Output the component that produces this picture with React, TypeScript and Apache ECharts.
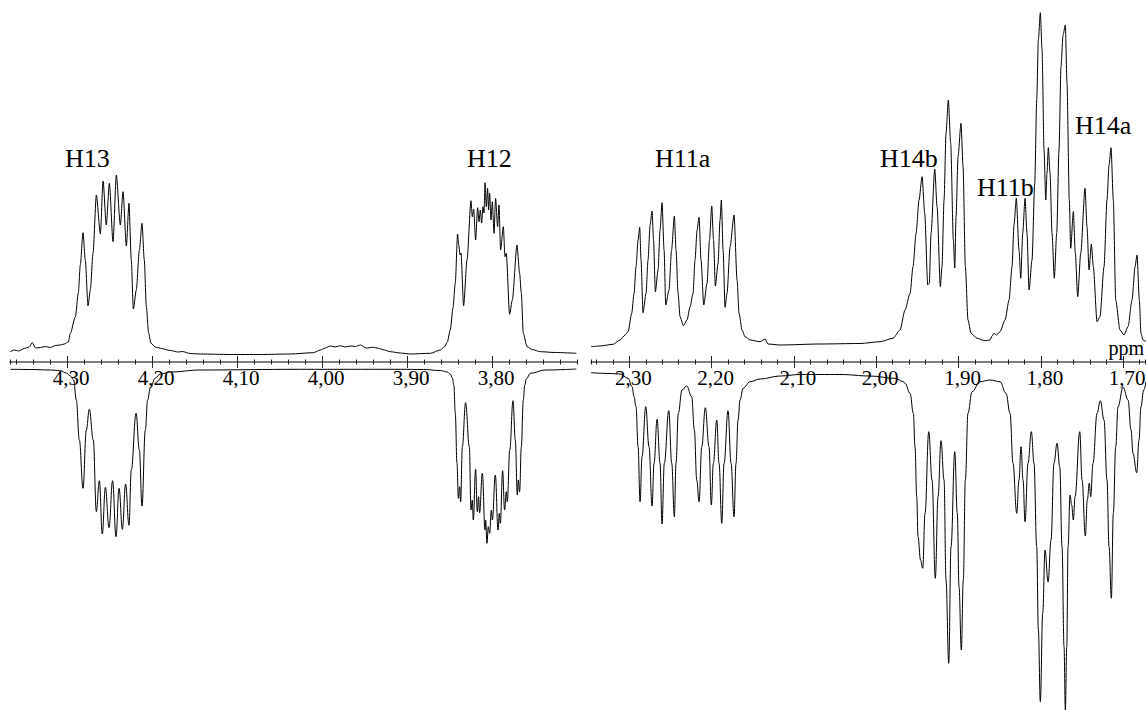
import React, { useEffect, useRef } from "react";
import * as echarts from "echarts";

// [ppm, intensity] (intensity relative to the ppm axis line)
const upperLeft: number[][] = [
  [4.3667, 10.3], [4.362, 12], [4.3573, 11], [4.3502, 13.5], [4.3444, 15], [4.3408, 19.5], [4.3373, 14],
  [4.3314, 14.5], [4.3255, 15.5], [4.3196, 14.5], [4.3138, 16.5], [4.3079, 17], [4.3032, 18], [4.2985, 20],
  [4.2961, 28.7], [4.2902, 45.3], [4.2867, 69], [4.2844, 97], [4.2812, 129.3], [4.2785, 102], [4.2753, 56.3],
  [4.2726, 72], [4.2694, 109], [4.2655, 167], [4.2608, 128], [4.2576, 181], [4.2538, 137], [4.2502, 178.7],
  [4.2459, 120.3], [4.242, 187], [4.2373, 137], [4.2341, 170.3], [4.2302, 116], [4.2271, 158.7], [4.2244, 102],
  [4.222, 53], [4.2185, 72], [4.2149, 112], [4.2118, 138.7], [4.2091, 102], [4.2067, 55.3], [4.204, 29],
  [4.2012, 18.7], [4.1961, 15], [4.1902, 13.7], [4.1785, 11.5], [4.1691, 10], [4.1644, 10.5], [4.1549, 8.5],
  [4.1432, 8], [4.1079, 7.5], [4.0726, 7.5], [4.0373, 8], [4.0102, 9.3], [4.002, 12], [3.9961, 14], [3.9902, 16],
  [3.9844, 15], [3.9785, 16.3], [3.9726, 15], [3.9667, 16], [3.9608, 15.5], [3.9549, 17], [3.9479, 14],
  [3.9396, 14.7], [3.9338, 13.7], [3.9267, 12], [3.9196, 10.3], [3.9079, 9], [3.8961, 8], [3.8726, 8.7],
  [3.8608, 12], [3.8561, 15], [3.8526, 20], [3.8491, 32], [3.8459, 54], [3.8432, 79], [3.8405, 128],
  [3.8391, 117], [3.8376, 107], [3.8365, 109], [3.8334, 56.3], [3.8294, 102], [3.8247, 161.3], [3.8232, 145.3],
  [3.8216, 153], [3.8193, 122], [3.8169, 154.3], [3.8153, 140.3], [3.8138, 152], [3.8122, 139], [3.8106, 155.3],
  [3.8094, 149], [3.8082, 179.3], [3.8067, 155.3], [3.8052, 173.7], [3.804, 152], [3.8028, 168.7], [3.8012, 142],
  [3.7996, 160.3], [3.7976, 128.7], [3.7958, 163.7], [3.7934, 135.3], [3.7918, 157], [3.7899, 112],
  [3.7867, 135.3], [3.7847, 105.3], [3.7832, 108.7], [3.7793, 47.7], [3.7761, 62], [3.7706, 117], [3.7675, 88.7],
  [3.7655, 68.7], [3.7632, 28.7], [3.7588, 15.3], [3.7526, 12.5], [3.7432, 10.3], [3.7255, 9.5], [3.7008, 8.7],
];

const lowerLeft: number[][] = [
  [4.3667, -7.3], [4.3432, -7.5], [4.3196, -8], [4.3079, -8.7], [4.3008, -11], [4.2961, -14], [4.2922, -18],
  [4.2891, -38], [4.2855, -78], [4.2812, -126.3], [4.2773, -68], [4.2738, -47.3], [4.2691, -78], [4.2655, -149.7],
  [4.262, -118.7], [4.2585, -172], [4.2549, -125.3], [4.2506, -165.7], [4.2464, -118.7], [4.2424, -174.7],
  [4.2388, -126.3], [4.2349, -167.3], [4.2311, -122], [4.2271, -163.3], [4.2244, -108], [4.2188, -51.3],
  [4.2149, -88], [4.2118, -144], [4.2079, -68], [4.2052, -38], [4.202, -26], [4.1961, -16], [4.1902, -12],
  [4.1785, -10], [4.1432, -8], [4.0255, -7.3], [3.9079, -7.3], [3.8808, -7.5], [3.8608, -8.5], [3.8526, -10],
  [3.8491, -12], [3.8467, -16], [3.8449, -23], [3.8432, -51.3], [3.8412, -101.3], [3.8396, -136.3],
  [3.8381, -124.7], [3.8369, -139.7], [3.8349, -84.7], [3.8311, -40.7], [3.8267, -84.7], [3.8247, -148],
  [3.8232, -138], [3.822, -158], [3.8193, -107.3], [3.8173, -149.7], [3.8158, -134.7], [3.8146, -150.7],
  [3.8114, -111.3], [3.8082, -168], [3.8075, -158], [3.8059, -181.3], [3.8044, -164.7], [3.8028, -171.3],
  [3.8008, -148], [3.7996, -158], [3.7961, -113], [3.7929, -168], [3.7914, -151.3], [3.7902, -161.3],
  [3.7875, -108.7], [3.7852, -148], [3.7832, -129.7], [3.782, -139.7], [3.7791, -88], [3.7753, -38.7],
  [3.7726, -78], [3.7702, -133], [3.7691, -118], [3.7675, -129.7], [3.7655, -84.7], [3.7632, -38], [3.7614, -23],
  [3.7596, -17], [3.7549, -11.3], [3.7373, -8], [3.7008, -7],
];

const upperRight: number[][] = [
  [2.3465, 15.3], [2.3356, 16], [2.3198, 17.7], [2.3113, 22], [2.3052, 27], [2.3016, 30.3], [2.2971, 48.7],
  [2.2943, 68.7], [2.2919, 95.3], [2.2894, 122], [2.2874, 134.7], [2.2858, 102], [2.2834, 49.3], [2.2797, 68.7],
  [2.2773, 102], [2.2748, 137], [2.2724, 151], [2.2706, 122], [2.2684, 70.3], [2.2651, 92], [2.2627, 132],
  [2.2603, 159.3], [2.2578, 112], [2.2558, 57], [2.2518, 72], [2.2487, 112], [2.2453, 146], [2.2433, 112],
  [2.2408, 68.7], [2.2384, 45.3], [2.2344, 36.3], [2.2299, 42], [2.2262, 55.3], [2.2226, 68.7], [2.2202, 102],
  [2.2177, 132], [2.2153, 144.7], [2.2129, 102], [2.2096, 57], [2.2056, 78.7], [2.2026, 122], [2.1999, 156],
  [2.1977, 122], [2.1955, 76], [2.1922, 98.7], [2.1898, 142], [2.1882, 162], [2.1861, 112], [2.1837, 54.7],
  [2.1813, 68.7], [2.1776, 115.3], [2.1728, 147], [2.1691, 82], [2.1667, 48.7], [2.1631, 32], [2.1594, 25.3],
  [2.1533, 22], [2.1412, 20.3], [2.1351, 23], [2.1315, 18], [2.1169, 17], [2.0683, 18], [2.0197, 18.5],
  [1.9954, 20.3], [1.9796, 23.7], [1.9711, 32], [1.965, 52], [1.9589, 68.7], [1.9553, 95.3], [1.9516, 128.7],
  [1.948, 162], [1.9443, 185.3], [1.9411, 148.7], [1.9374, 77], [1.9355, 78.7], [1.9334, 128.7], [1.9289, 193],
  [1.9261, 155.3], [1.9221, 75.3], [1.9201, 95.3], [1.9176, 162], [1.9152, 228.7], [1.9124, 262],
  [1.9095, 218.7], [1.9063, 122], [1.9046, 94], [1.903, 145.3], [1.9006, 205.3], [1.897, 238.7], [1.8945, 195.3],
  [1.8917, 95.3], [1.8885, 42], [1.8848, 28.7], [1.8775, 23.7], [1.8678, 21.3], [1.8617, 22], [1.8593, 26],
  [1.8569, 28.7], [1.8536, 27], [1.8496, 30.3], [1.8435, 42], [1.8386, 62], [1.835, 95.3], [1.8326, 137],
  [1.8298, 163.7], [1.8265, 112], [1.8244, 83.7], [1.822, 128.7], [1.8192, 163.7], [1.8168, 128.7],
  [1.8143, 72], [1.8107, 102], [1.8074, 178.7], [1.805, 262], [1.803, 322], [1.8006, 349.3], [1.7985, 312],
  [1.7961, 212], [1.794, 162], [1.7925, 188.7], [1.7909, 214.3], [1.7888, 188.7], [1.7864, 128.7],
  [1.7836, 83.7], [1.7807, 128.7], [1.7779, 212], [1.7755, 295.3], [1.773, 327], [1.7702, 337], [1.7682, 278.7],
  [1.7654, 162], [1.7637, 113.7], [1.7605, 150.3], [1.7581, 108.7], [1.7552, 65.3], [1.7515, 108.7],
  [1.7463, 173.7], [1.7439, 135.3], [1.7414, 92], [1.7386, 118], [1.7362, 95.3], [1.7317, 40.3], [1.7281, 45.3],
  [1.7232, 95.3], [1.7196, 162], [1.7171, 197], [1.7147, 214.3], [1.7119, 162], [1.709, 62], [1.7038, 32],
  [1.6989, 27], [1.694, 35.3], [1.6892, 62], [1.6855, 95.3], [1.6831, 107], [1.6803, 62], [1.6783, 28.7],
  [1.6758, 22], [1.6722, 20.3],
];

const lowerRight: number[][] = [
  [2.3465, -10.7], [2.3235, -11.5], [2.3113, -12], [2.3016, -16.3], [2.2967, -24.7], [2.2943, -34.7],
  [2.2919, -44.7], [2.2894, -84.7], [2.287, -139.7], [2.2846, -94.7], [2.2801, -44.7], [2.2761, -84.7],
  [2.2724, -144], [2.27, -101.3], [2.2663, -57.3], [2.2627, -101.3], [2.2603, -162], [2.2575, -101.3],
  [2.2521, -48.7], [2.2485, -101.3], [2.2453, -154.7], [2.2433, -101.3], [2.2405, -51.3], [2.236, -28],
  [2.2303, -24], [2.2242, -34.7], [2.221, -68], [2.2181, -118], [2.2153, -139.7], [2.212, -84.7], [2.2077, -45.7],
  [2.2032, -84.7], [2.2004, -143], [2.1979, -101.3], [2.1938, -58], [2.191, -101.3], [2.1877, -161.3],
  [2.1849, -101.3], [2.1801, -48.7], [2.1764, -101.3], [2.1728, -154.7], [2.1704, -101.3], [2.1679, -58],
  [2.1655, -38], [2.1618, -26.3], [2.1533, -19.7], [2.1412, -17], [2.1169, -14], [2.0926, -12.5], [2.044, -12.5],
  [2.0075, -14], [1.9772, -16.3], [1.9674, -19.5], [1.965, -21.3], [1.9589, -31.3], [1.9549, -51.3],
  [1.9529, -84.7], [1.9508, -134.7], [1.9492, -174.7], [1.9462, -198], [1.9435, -206.3], [1.9407, -151.3],
  [1.9362, -69.7], [1.9322, -118], [1.9282, -216.3], [1.9249, -134.7], [1.9213, -78.7], [1.9176, -118],
  [1.9152, -218], [1.9119, -301.3], [1.9091, -184.7], [1.9046, -89.7], [1.9015, -151.3], [1.8994, -224.7],
  [1.8966, -288], [1.8942, -218], [1.8917, -118], [1.8885, -51.3], [1.8836, -29.7], [1.8739, -19.7],
  [1.8617, -18], [1.8496, -19.7], [1.8423, -31.3], [1.8374, -51.3], [1.8338, -101.3], [1.8293, -151.3],
  [1.8265, -118], [1.8241, -84.7], [1.8216, -118], [1.8192, -159.7], [1.8156, -101.3], [1.8115, -69.7],
  [1.8083, -101.3], [1.805, -184.7], [1.803, -268], [1.8006, -339.7], [1.7977, -251.3], [1.7949, -188],
  [1.7912, -220], [1.7876, -178], [1.784, -101.3], [1.7803, -81.3], [1.777, -104.7], [1.7742, -184.7],
  [1.7718, -284.7], [1.7702, -348], [1.7685, -284.7], [1.7669, -184.7], [1.7645, -133], [1.7625, -143],
  [1.7605, -158], [1.7584, -134.7], [1.7527, -69.7], [1.7499, -118], [1.7459, -174], [1.7435, -138],
  [1.7411, -121.3], [1.7394, -134.7], [1.7366, -101.3], [1.7317, -51.3], [1.7277, -38.7], [1.7232, -58],
  [1.7196, -118], [1.7171, -184.7], [1.7143, -236.3], [1.7119, -151.3], [1.709, -84.7], [1.7062, -44.7],
  [1.7001, -25.3], [1.694, -38], [1.6904, -68], [1.688, -91.3], [1.6835, -110.7], [1.6807, -78],
  [1.6783, -44.7], [1.675, -28], [1.6722, -19.7],
];

const leftMajorTicks = [4.3, 4.2, 4.1, 4.0, 3.9, 3.8];
const leftMinorTicks = [
  3.7, 3.72, 3.74, 3.76, 3.78, 3.8, 3.82, 3.84, 3.86, 3.88, 3.9, 3.92, 3.94, 3.96, 3.98, 4.0, 4.02, 4.04,
  4.06, 4.08, 4.1, 4.12, 4.14, 4.16, 4.18, 4.2, 4.22, 4.24, 4.26, 4.28, 4.3, 4.32, 4.34, 4.36, 4.367,
];
const rightMajorTicks = [2.3, 2.2, 2.1, 2.0, 1.9, 1.8, 1.7];
const rightMinorTicks = [
  1.673, 1.68, 1.7, 1.72, 1.74, 1.76, 1.78, 1.8, 1.82, 1.84, 1.86, 1.88, 1.9, 1.92, 1.94, 1.96, 1.98, 2.0,
  2.02, 2.04, 2.06, 2.08, 2.1, 2.12, 2.14, 2.16, 2.18, 2.2, 2.22, 2.24, 2.26, 2.28, 2.3, 2.32, 2.34, 2.346,
];
const peakNames = ["H13", "H12", "H11a", "H14b", "H11b", "H14a"];
const unitLabel = "ppm";

export default function App() {
  const ref = useRef<HTMLDivElement>(null);

  useEffect(() => {
    const chart = echarts.init(ref.current!, null, { renderer: "svg" });
    const FONT = "Liberation Serif";
    const AXIS_Y = 362; // pixel row of the ppm axis
    const Y_MIN = AXIS_Y - 711;
    const Y_MAX = AXIS_Y;
    const panels = [
      { left: 10, width: 567, min: 3.7, max: 4.3671, major: leftMajorTicks, minor: leftMinorTicks },
      { left: 591, width: 555, min: 1.6722, max: 2.3466, major: rightMajorTicks, minor: rightMinorTicks },
    ];
    const grid: any[] = [];
    const xAxis: any[] = [];
    const yAxis: any[] = [];
    const seriesGrid: number[] = [];
    panels.forEach((p) => {
      // full-height grid for the spectra
      const sg = grid.length;
      seriesGrid.push(sg);
      grid.push({ left: p.left, width: p.width, top: 0, height: 711, outerBoundsMode: "none", containLabel: false });
      xAxis.push({ type: "value", gridIndex: sg, min: p.min, max: p.max, inverse: true, show: false });
      yAxis.push({ type: "value", gridIndex: sg, min: Y_MIN, max: Y_MAX, show: false });
      // grids whose bottom edge is the ppm axis, one per tick family
      const kinds = [
        { ticks: p.major, len: 6, inside: false, label: true, line: true },
        { ticks: p.major, len: 6, inside: true, label: false, line: false },
        { ticks: p.minor, len: 2.5, inside: false, label: false, line: false },
        { ticks: p.minor, len: 2.5, inside: true, label: false, line: false },
      ];
      kinds.forEach((k) => {
        const gi = grid.length;
        grid.push({ left: p.left, width: p.width, top: 0, height: AXIS_Y, outerBoundsMode: "none", containLabel: false });
        xAxis.push({
          type: "value",
          gridIndex: gi,
          position: "bottom",
          min: p.min,
          max: p.max,
          inverse: true,
          axisLine: { show: k.line, onZero: false, lineStyle: { color: "#555", width: 1.5 } },
          axisTick: {
            show: true,
            customValues: k.ticks,
            length: k.len,
            inside: k.inside,
            lineStyle: { color: "#222", width: 1 },
          },
          axisLabel: {
            show: k.label,
            customValues: p.major,
            formatter: (v: number) => v.toFixed(2).replace(".", ","),
            fontFamily: FONT,
            fontSize: 21,
            color: "#000",
            margin: 5,
            padding: [0, 0, 0, 8],
          },
          splitLine: { show: false },
        });
        yAxis.push({ type: "value", gridIndex: gi, min: 0, max: 1, show: false });
      });
    });

    const line = (data: number[][], gi: number, smooth: number) => ({
      type: "line",
      xAxisIndex: gi,
      yAxisIndex: gi,
      data,
      symbol: "none",
      showSymbol: false,
      smooth,
      smoothMonotone: "x",
      clip: true,
      z: 3,
      lineStyle: { color: "#000", width: 1 },
    });

    const labelPos = [
      [65, 158],
      [467, 158],
      [655, 158],
      [880, 158],
      [977, 187],
      [1075, 125],
    ];
    const graphic: any[] = peakNames.map((name, i) => ({
      type: "text",
      x: labelPos[i][0],
      y: labelPos[i][1],
      style: {
        text: name,
        fontFamily: FONT,
        fontSize: 26,
        fill: "#000",
        align: "left",
        verticalAlign: "middle",
      },
    }));
    graphic.push({
      type: "text",
      x: 1144,
      y: 348,
      style: { text: unitLabel, fontFamily: FONT, fontSize: 20, fill: "#000", align: "right", verticalAlign: "middle" },
    });

    chart.setOption({
      animation: false,
      backgroundColor: "#fff",
      textStyle: { fontFamily: FONT },
      grid,
      xAxis,
      yAxis,
      series: [
        line(upperLeft, seriesGrid[0], 0.25),
        line(lowerLeft, seriesGrid[0], 0.4),
        line(upperRight, seriesGrid[1], 0.25),
        line(lowerRight, seriesGrid[1], 0.4),
      ],
      graphic,
    });
    return () => chart.dispose();
  }, []);

  return (
    <div
      ref={ref}
      style={{ position: "absolute", left: 0, top: 0, width: 1146, height: 711, background: "#fff" }}
    />
  );
}
